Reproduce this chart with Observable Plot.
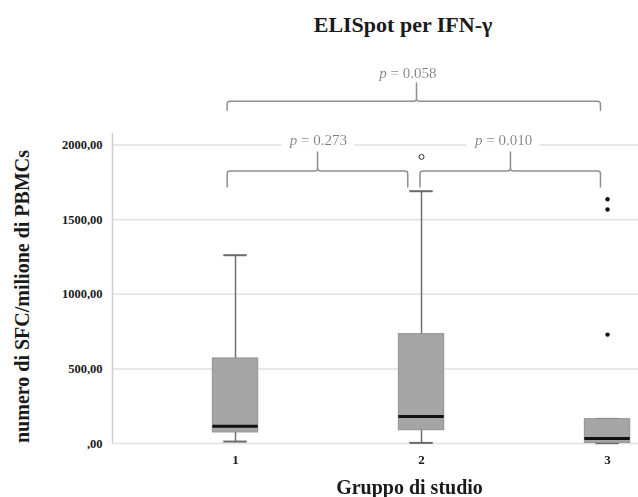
<!DOCTYPE html>
<html><head><meta charset="utf-8">
<script src="https://cdn.jsdelivr.net/npm/d3@7"></script>
<script src="https://cdn.jsdelivr.net/npm/@observablehq/plot@0.6"></script>
<style>
html,body{margin:0;padding:0;background:#fff;overflow:hidden;}
#wrap{width:706px;}
#title{box-sizing:border-box;height:45px;padding-top:14px;margin-left:106px;width:594px;text-align:center;font:bold 22px/22px "Liberation Serif",serif;color:#1a1a1a;white-space:nowrap;}
#chart svg{display:block;}
</style></head><body>
<div id="wrap"><div id="title">ELISpot per IFN-γ</div><div id="chart"></div></div>
<script>
// ---- data ----
const groups = [1, 2, 3];
const whiskerLow = [13, 4, 2];
const q1 = [74, 89, 4];
const median = [116, 181, 33];
const q3 = [570, 733, 163];
const whiskerHigh = [1262, 1691, 165];
const outlierGroup = [2];
const outlierValue = [1921];
const extremeGroup = [3, 3, 3];
const extremeValue = [1637, 1568, 730];
const yTicks = [0, 500, 1000, 1500, 2000];
const yTickLabels = [",00", "500,00", "1000,00", "1500,00", "2000,00"];
const xLabel = "Gruppo di studio";
const yLabel = "numero di SFC/milione di PBMCs";
// comparison braces (in group / value units)
const compLabels = ["p = 0.273", "p = 0.010", "p = 0.058"];
const compFrom = [0.955, 1.992, 0.955];
const compTo = [1.926, 2.962, 2.962];
const compTip = [1.441, 2.478, 1.973];
const compLabelX = [1.446, 2.441, 1.927];
const compLevel = [1827, 1827, 2294];
const compDrop = [1720, 1720, 2234];
const compPeak = [1954, 1954, 2416];
const compLabelY = [2033, 2033, 2482];

// ---- tables built from the arrays ----
const boxes = groups.map((g, i) => ({g, lo: whiskerLow[i], q1: q1[i], med: median[i], q3: q3[i], hi: whiskerHigh[i]}));
const outliers = outlierGroup.map((g, i) => ({g, v: outlierValue[i]}));
const extremes = extremeGroup.map((g, i) => ({g, v: extremeValue[i]}));
const comps = compLabels.map((t, i) => ({t, x: compLabelX[i], y: compLabelY[i]}));

const HW = 0.122, CAP = 0.063, RX = 0.022, RY = 28;
function bracePts(i) {
  const f = compFrom[i], t = compTo[i], m = compTip[i], L = compLevel[i], D = compDrop[i], P = compPeak[i];
  const pts = [];
  const add = (x, y, n = 1) => { for (let k = 0; k < n; k++) pts.push({c: i, x, y}); };
  add(f, D, 3); add(f, L - RY, 3); add(f, L); add(f + RX, L, 3);
  add(m - RX, L, 3); add(m, L); add(m, L + RY, 3); add(m, P, 3); add(m, L + RY, 3); add(m, L); add(m + RX, L, 3);
  add(t - RX, L, 3); add(t, L); add(t, L - RY, 3); add(t, D, 3);
  return pts;
}
const braces = compLabels.flatMap((_, i) => bracePts(i));

const xMin = 0.3387;
const chart = Plot.plot({
  width: 706, height: 452,
  marginLeft: 112, marginRight: 0, marginTop: 18, marginBottom: 54,
  x: {type: "linear", domain: [xMin, 3.532]},
  y: {domain: [0, 2547]},
  style: {fontFamily: "'Liberation Serif', serif", fontWeight: "bold", fontSize: "12.5px", color: "#1a1a1a", background: "#fff"},
  marks: [
    Plot.ruleY(yTicks, {stroke: "#e1e1e1", strokeWidth: 1.5}),
    Plot.ruleX([xMin], {y1: 0, y2: 2080, stroke: "#cfcfcf", strokeWidth: 1.5}),
    Plot.text(comps, {x: "x", y: "y", text: "t", fill: "#7d7d7d", fontWeight: "normal", fontSize: 15, className: "pval"}),
    Plot.line(braces, {x: "x", y: "y", z: "c", curve: "basis", stroke: "#8e8e8e", strokeWidth: 1.5}),
    Plot.ruleX(boxes, {x: "g", y1: "lo", y2: "hi", stroke: "#707070", strokeWidth: 1.5}),
    Plot.ruleY(boxes, {y: "hi", x1: d => d.g - CAP, x2: d => d.g + CAP, stroke: "#6a6a6a", strokeWidth: 2}),
    Plot.ruleY(boxes, {y: "lo", x1: d => d.g - CAP, x2: d => d.g + CAP, stroke: "#6a6a6a", strokeWidth: 2}),
    Plot.rect(boxes, {x1: d => d.g - HW, x2: d => d.g + HW, y1: "q1", y2: "q3", fill: "#a5a5a5", stroke: "#929292", strokeWidth: 1}),
    Plot.ruleY(boxes, {y: "med", x1: d => d.g - HW, x2: d => d.g + HW, stroke: "#111", strokeWidth: 3}),
    Plot.dot(outliers, {x: "g", y: "v", r: 2.5, stroke: "#333", strokeWidth: 1, fill: "white"}),
    Plot.dot(extremes, {x: "g", y: "v", r: 2.2, fill: "#111", stroke: null}),
    Plot.axisY(yTicks, {tickSize: 0, tickPadding: 10, tickFormat: d => yTickLabels[yTicks.indexOf(d)], label: null, fontSize: 12.5, fontWeight: "bold", fill: "#1a1a1a"}),
    Plot.axisX(groups, {tickSize: 0, tickPadding: 11, tickFormat: d => String(d), label: null, fontSize: 13, fontWeight: "bold", fill: "#1a1a1a"}),
    Plot.text([xLabel], {frameAnchor: "bottom", text: d => d, lineAnchor: "top", dy: 36, fontSize: 20, fontWeight: "bold", fill: "#1a1a1a"}),
    Plot.text([yLabel], {frameAnchor: "left", text: d => d, rotate: -90, textAnchor: "middle", dx: -90, dy: 43, lineAnchor: "middle", fontSize: 20, fontWeight: "bold", fill: "#1a1a1a"})
  ]
});
document.getElementById("chart").appendChild(chart);

// white halo behind the p-value labels (interrupts the gridline), via an SVG filter
const NS = "http://www.w3.org/2000/svg";
const defs = document.createElementNS(NS, "defs");
defs.innerHTML = '<filter id="pvalHalo" x="-30%" y="-100%" width="160%" height="300%">' +
  '<feMorphology in="SourceAlpha" operator="dilate" radius="8 6" result="d"/>' +
  '<feFlood flood-color="#ffffff" result="f"/>' +
  '<feComposite in="f" in2="d" operator="in" result="w"/>' +
  '<feMerge><feMergeNode in="w"/><feMergeNode in="SourceGraphic"/></feMerge></filter>';
chart.insertBefore(defs, chart.firstChild);
chart.querySelectorAll("g.pval, .pval").forEach(g => { if (g.tagName === "g") g.setAttribute("filter", "url(#pvalHalo)"); });

// italicise the "p" of each p-value label
chart.querySelectorAll(".pval text").forEach(t => {
  if (t.children.length === 0 && t.textContent.startsWith("p = ")) {
    const rest = t.textContent.slice(1);
    t.textContent = "";
    const ts = document.createElementNS(NS, "tspan");
    ts.setAttribute("font-style", "italic");
    ts.textContent = "p";
    t.appendChild(ts);
    t.appendChild(document.createTextNode(rest));
  }
});
</script>
</body></html>
